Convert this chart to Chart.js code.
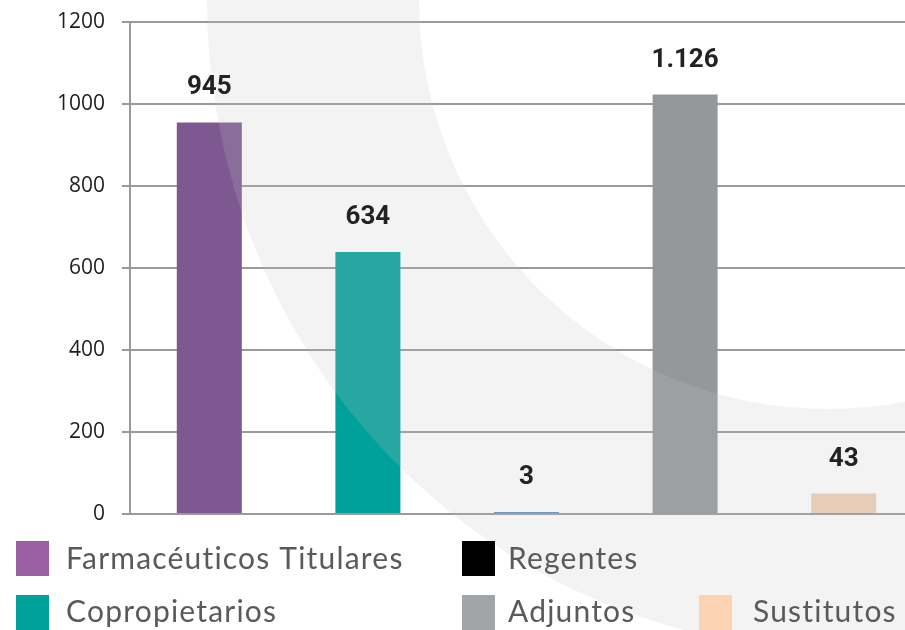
<!DOCTYPE html>
<html>
<head>
<meta charset="utf-8">
<script src="https://cdn.jsdelivr.net/npm/chart.js@4.4.1/dist/chart.umd.min.js"></script>
<style>
  html, body { margin: 0; padding: 0; background: #fff; overflow: hidden; }
  #wrap { position: relative; width: 923px; height: 630px; }
</style>
</head>
<body>
<div id="wrap"><canvas id="barChart"></canvas></div>
<script>
// Categories and values
const categories = ['Farmacéuticos Titulares', 'Copropietarios', 'Regentes', 'Adjuntos', 'Sustitutos'];
const barValues = [955, 639, 3, 1023, 50];            // bar heights as drawn
const valueLabels = ['945', '634', '3', '1.126', '43']; // printed labels above bars
const yMin = 0;
const yMax = 1200;
const yStep = 200;

const barColors = ['#7d5891', '#00a19a', '#5b8ac6', '#94989b', '#f0d0b4'];
const legendColors = ['#9c5ea4', '#00a19a', '#000000', '#a2a5a8', '#fbd3b2'];
// legend is laid out in columns: [column][row] -> category index (null = empty cell)
const legendColumns = [[0, 1], [2, 3], [null, 4]];

// Big light arc in the background, drawn over the bars as a soft veil
const ringPlugin = {
    id: 'ring',
    afterDatasetsDraw(chart) {
        const c = chart.ctx;
        c.save();
        c.beginPath();
        c.ellipse(840, 0, 633, 650, 0, 0, Math.PI * 2);
        c.moveTo(828 + 409, 0);
        c.arc(828, 0, 409, 0, Math.PI * 2);
        c.fillStyle = 'rgba(195, 195, 195, 0.2)';
        c.fill('evenodd');
        c.restore();
    }
};

// Value labels above bars and the column legend at the bottom
const labelsPlugin = {
    id: 'labels',
    afterDraw(chart) {
        const c = chart.ctx;
        const meta = chart.getDatasetMeta(0);
        c.save();
        c.font = 'bold 26px Roboto';
        c.fillStyle = '#222';
        c.textAlign = 'center';
        c.textBaseline = 'alphabetic';
        meta.data.forEach((bar, i) => {
            c.fillText(valueLabels[i], bar.x, bar.y - 28);
        });

        // legend
        c.font = '30px Lato';
        c.letterSpacing = '1.2px';
        c.textAlign = 'left';
        const boxW = 33, boxH = 35;
        const colX = [16, 462, 699];
        const textGap = [17, 13, 21];
        const rowTops = [541, 595];
        legendColumns.forEach((col, ci) => {
            col.forEach((idx, r) => {
                if (idx === null) return;
                const top = rowTops[r];
                c.fillStyle = legendColors[idx];
                c.fillRect(colX[ci], top, boxW, boxH);
                c.fillStyle = '#5a5a5a';
                c.fillText(categories[idx], colX[ci] + boxW + textGap[ci], top + 28 - r);
            });
        });
        c.restore();
    }
};

const ctx = document.getElementById('barChart').getContext('2d');
new Chart(ctx, {
    type: 'bar',
    data: {
        labels: categories,
        datasets: [{
            data: barValues,
            backgroundColor: barColors,
            borderWidth: 0,
            barPercentage: 0.41,
            categoryPercentage: 1,
            minBarLength: 2
        }]
    },
    options: {
        responsive: true,
        maintainAspectRatio: false,
        animation: false,
        layout: { padding: { top: 22, bottom: 116, left: 0, right: 0 } },
        plugins: {
            legend: { display: false },
            tooltip: { enabled: false }
        },
        scales: {
            x: { display: false },
            y: {
                min: yMin,
                max: yMax,
                ticks: {
                    stepSize: yStep,
                    padding: 17,
                    color: '#1e1e1e',
                    font: { family: 'Open Sans', size: 21 },
                    callback: v => String(v)
                },
                grid: { color: '#9a9a9a', lineWidth: 2, tickLength: 8 },
                border: { color: '#9a9a9a', width: 2 },
                afterFit(scale) {
                    scale.width = 130;
                    scale.paddingTop = 0;
                    scale.paddingBottom = 0;
                }
            }
        }
    },
    plugins: [ringPlugin, labelsPlugin]
});
</script>
</body>
</html>
